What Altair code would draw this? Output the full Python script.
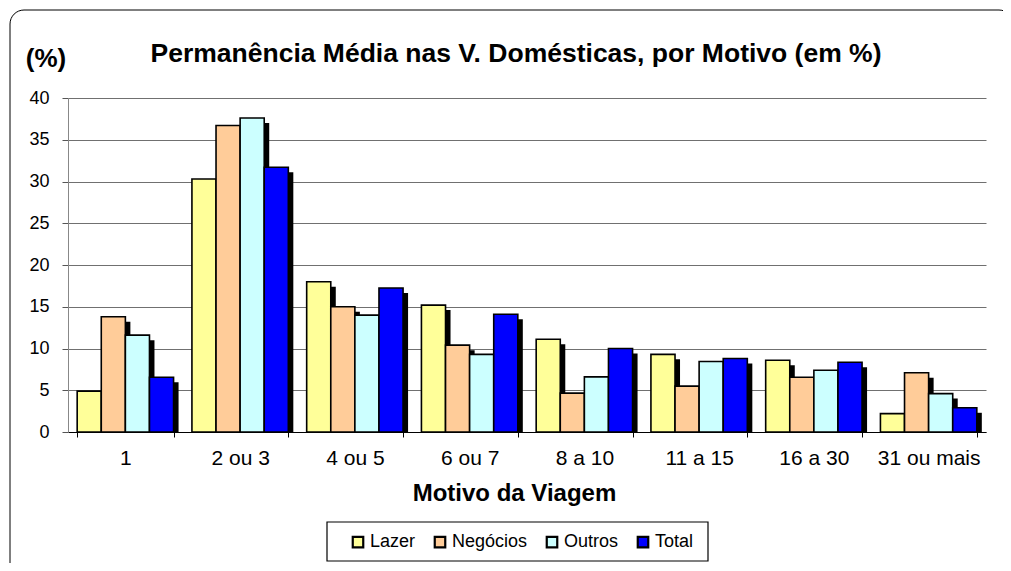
import altair as alt
import pandas as pd

categories = ["1", "2 ou 3", "4 ou 5", "6 ou 7", "8 a 10", "11 a 15", "16 a 30", "31 ou mais"]
series = ["Lazer", "Negócios", "Outros", "Total"]
lazer = [4.9, 30.3, 18.0, 15.2, 11.1, 9.3, 8.6, 2.2]
negocios = [13.8, 36.7, 15.0, 10.4, 4.65, 5.5, 6.55, 7.1]
outros = [11.6, 37.6, 14.0, 9.3, 6.6, 8.45, 7.4, 4.6]
total = [6.55, 31.7, 17.25, 14.1, 10.0, 8.8, 8.35, 2.9]
colors = ["#FFFF99", "#FFCC99", "#CCFFFF", "#0000FF"]
title_text = "Permanência Média nas V. Domésticas, por Motivo (em %)"
y_title = "(%)"

rows = []
for s, vals in zip(series, [lazer, negocios, outros, total]):
    for c, v in zip(categories, vals):
        rows.append({"Motivo": c, "Serie": s, "Valor": v})
df = pd.DataFrame(rows)

FONT = "Liberation Sans"
W, H = 918, 334
PI, PO = 0.16, 0.08
BAND = W / (len(categories) - PI + 2 * PO) * (1 - PI)
SH = 5

x_enc = alt.X("Motivo:N", sort=categories,
              scale=alt.Scale(paddingInner=PI, paddingOuter=PO),
              axis=alt.Axis(title="Motivo da Viagem", labelAngle=0, tickBand="extent",
                            labelFontSize=21, titleFontSize=24, titleFontWeight="bold",
                            labelPadding=10, tickSize=5, titlePadding=13,
                            titleX=446, titleAnchor="start", titleAlign="center",
                            domainColor="#000", tickColor="#000", labelColor="#000",
                            titleColor="#000", grid=False))
y_enc = alt.Y("Valor:Q", scale=alt.Scale(domain=[0, 40]),
              axis=alt.Axis(values=list(range(0, 41, 5)), title=None,
                            labelFontSize=18, tickSize=6, labelPadding=13,
                            gridColor="#707070", domainColor="#888",
                            tickColor="#555", labelColor="#000"))

shadow = alt.Chart(df).mark_bar(color="#000", yOffset=SH, clip=True).encode(
    x=x_enc, y=y_enc,
    xOffset=alt.XOffset("Serie:N", sort=series,
                        scale=alt.Scale(range=[SH, BAND + SH], paddingInner=0, paddingOuter=0)))

bars = alt.Chart(df).mark_bar(stroke="#000", strokeWidth=1.6).encode(
    x=x_enc, y=y_enc,
    xOffset=alt.XOffset("Serie:N", sort=series),
    color=alt.Color("Serie:N", sort=series,
                    scale=alt.Scale(domain=series, range=colors),
                    legend=alt.Legend(title=None, orient="none", direction="horizontal",
                                      legendX=281, legendY=435, padding=0,
                                      labelFontSize=18, symbolType="square",
                                      symbolSize=110, symbolStrokeColor="#000",
                                      symbolStrokeWidth=2.2, columnPadding=14,
                                      labelOffset=3, labelColor="#000",
                                      labelFont=FONT)))

one = pd.DataFrame({"a": [0]})
border = alt.Chart(one).mark_rect(
    fill=None, stroke="#000", strokeWidth=1, cornerRadius=14).encode(
    x=alt.value(-58), x2=alt.value(945), y=alt.value(-88), y2=alt.value(490))

legend_box = alt.Chart(one).mark_rect(
    fill="#fff", stroke="#000", strokeWidth=1.2).encode(
    x=alt.value(259), x2=alt.value(640), y=alt.value(424), y2=alt.value(463))

title = alt.Chart(one).mark_text(
    text=title_text, font=FONT, fontSize=26.5, fontWeight="bold", color="#000",
    align="center", baseline="alphabetic").encode(x=alt.value(448), y=alt.value(-36))

ytitle = alt.Chart(one).mark_text(
    text=y_title, font=FONT, fontSize=26, fontWeight="bold", color="#000",
    align="center", baseline="alphabetic").encode(x=alt.value(-22), y=alt.value(-31))

chart = alt.layer(border, legend_box, title, ytitle, shadow, bars).resolve_scale(
    xOffset="independent"
).properties(
    width=W, height=H,
    padding={"left": 60, "top": 90, "right": 17, "bottom": 131},
    autosize=alt.AutoSizeParams(type="none"),
).configure(font=FONT).configure_view(stroke=None).configure_axis(
    labelFont=FONT, titleFont=FONT)

chart.save("out.html", embed_options={"renderer": "svg", "actions": False})
